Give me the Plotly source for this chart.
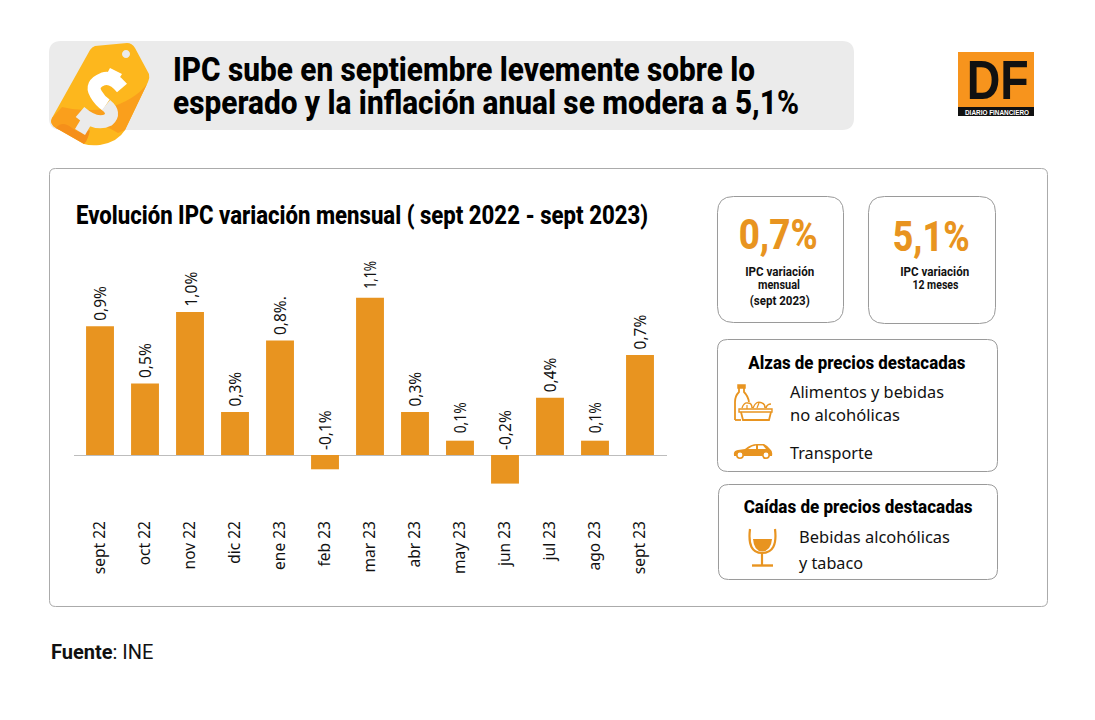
import re
import json
import plotly.graph_objects as go

meses = ["sept 22","oct 22","nov 22","dic 22","ene 23","feb 23","mar 23","abr 23","may 23","jun 23","jul 23","ago 23","sept 23"]
valores = [0.9,0.5,1.0,0.3,0.8,-0.1,1.1,0.3,0.1,-0.2,0.4,0.1,0.7]
etiquetas = ["0,9%","0,5%","1,0%","0,3%","0,8%.","-0,1%","1,1%","0,3%","0,1%","-0,2%","0,4%","0,1%","0,7%"]

W, H = 1095, 720
ORANGE = "#E89420"
BODY = "Noto Sans"
COND = "Roboto"

fig = go.Figure()
fig.add_trace(go.Bar(x=meses, y=valores, marker_color=ORANGE, marker_line_width=0, width=0.62,
                     hoverinfo="skip", showlegend=False))

def rr(x0, y0, x1, y1, r):
    return (f"M{x0+r},{y0} L{x1-r},{y0} Q{x1},{y0} {x1},{y0+r} L{x1},{y1-r} Q{x1},{y1} {x1-r},{y1} "
            f"L{x0+r},{y1} Q{x0},{y1} {x0},{y1-r} L{x0},{y0+r} Q{x0},{y0} {x0+r},{y0} Z")

def circ(cx, cy, r):
    k = 0.5523 * r
    return (f"M{cx-r},{cy} C{cx-r},{cy-k} {cx-k},{cy-r} {cx},{cy-r} C{cx+k},{cy-r} {cx+r},{cy-k} {cx+r},{cy} "
            f"C{cx+r},{cy+k} {cx+k},{cy+r} {cx},{cy+r} C{cx-k},{cy+r} {cx-r},{cy+k} {cx-r},{cy} Z")

def to_paper(d):
    out, i = [], 0
    for tok in re.findall(r"[MLQCZ]|-?\d+\.?\d*", d):
        if tok.isalpha():
            out.append(tok)
        else:
            v = float(tok)
            out.append(f"{v / W:.5f}" if i % 2 == 0 else f"{1 - v / H:.5f}")
            i += 1
    return " ".join(out)

shapes = []
def path(d, fill=None, line=None, lw=0, layer="below"):
    shapes.append(dict(type="path", path=to_paper(d), xref="paper", yref="paper", layer=layer,
                       fillcolor=fill if fill else "rgba(0,0,0,0)",
                       line=dict(color=line if line else "rgba(0,0,0,0)", width=lw)))

fit = {}
def txt(x, y, s, size, color="#111", font=BODY, anchor="left", weight=400, width=None):
    fig.add_annotation(x=x / W, y=1 - y / H, xref="paper", yref="paper", text=s, borderpad=0, borderwidth=0,
                       showarrow=False, xanchor=anchor, yanchor="middle", align=anchor,
                       font=dict(size=size, color=color, family=font, weight=weight))
    if width:
        fit[f"{s}|{size}px"] = width

# panels
path(rr(49, 41, 854, 130, 12), fill="#EBEBEB")
path(rr(49.5, 168.5, 1047.5, 606.5, 6), fill="#FFFFFF", line="#ABABAB", lw=1)
path(rr(717.5, 196.5, 843.5, 322.5, 16), fill="#FFFFFF", line="#9A9A9A", lw=1)
path(rr(868.5, 196.5, 995.5, 323.5, 16), fill="#FFFFFF", line="#9A9A9A", lw=1)
path(rr(717.5, 339.5, 997.5, 471.5, 10), fill="#FFFFFF", line="#9A9A9A", lw=1)
path(rr(718.5, 484.5, 997.5, 579.5, 10), fill="#FFFFFF", line="#9A9A9A", lw=1)

# price tag
path("M95,46 L127,43 Q132,43 135,48 L149,74 Q150,78 148,82 L125,130 Q118,142 100,145 Q90,146 84,144 L56,128 Q49,124 52,118 L90,50 Q92,47 95,46 Z", fill="#FDB71D")
path("M62,107 Q85,113 108,108 Q135,100 147,84 L125,130 L118,133 Q100,122 90,125 L86,142 L56,128 Q49,124 52,118 Z", fill="#FA9F1C")
path("M56,128 Q62,120 72,128 Q82,136 90,130 Q88,140 84,144 Z", fill="#F58F1A")
path(circ(126, 54, 4), fill="#EBEBEB")
# dollar
path("M122,88 Q112,76 103,79 Q90,84 96,94 Q100,101 106,105", line="#FFFFFF", lw=13)
path("M106,105 Q116,113 108,120 Q96,126 80,112", line="#EBEBEB", lw=13)
path("M110,68 L122,74 L115,85 L104,79 Z", fill="#FFFFFF")
path("M81,119 L91,125 L85,135 L75,129 Z", fill="#EBEBEB")

# DF logo
path("M958,52 L1034,52 L1034,116 L958,116 Z", fill="#F7941D")
path("M958,107 L1034,107 L1034,116 L958,116 Z", fill="#111111")
txt(997, 80, "DF", 55, color="#111", font="Liberation Sans", anchor="center", weight=700, width=62)
txt(997, 112, "DIARIO FINANCIERO", 7, color="#FFFFFF", font="Liberation Sans", anchor="center", weight=700, width=64)

# title and texts
txt(173, 69, "IPC sube en septiembre levemente sobre lo", 33, color="#000", font=COND, weight=800, width=582)
txt(173, 103, "esperado y la inflación anual se modera a 5,1%", 33, color="#000", font=COND, weight=800, width=626)
txt(76, 215, "Evolución IPC variación mensual ( sept 2022 - sept 2023)", 25, color="#000", font=COND, weight=800, width=572)
fig.add_annotation(x=50 / W, y=1 - 652 / H, xref="paper", yref="paper", text="<b>Fuente</b>: INE", borderpad=0,
                   showarrow=False, xanchor="left", yanchor="middle", align="left",
                   font=dict(size=20, color="#111", family=COND))

txt(778, 235, "0,7%", 42, color=ORANGE, font=COND, anchor="center", weight=800, width=79)
txt(931, 237, "5,1%", 42, color=ORANGE, font=COND, anchor="center", weight=800, width=77)
txt(779, 271, "IPC variación", 13, font=COND, anchor="center", weight=700, width=69)
txt(779, 285, "mensual", 13, font=COND, anchor="center", weight=700, width=42)
txt(780, 300, "(sept 2023)", 13, font=COND, anchor="center", weight=700, width=60)
txt(934, 271, "IPC variación", 13, font=COND, anchor="center", weight=700, width=69)
txt(935, 285, "12 meses", 13, font=COND, anchor="center", weight=700, width=46)

txt(857, 363, "Alzas de precios destacadas", 18.5, color="#000", font=COND, anchor="center", weight=800, width=217)
txt(790, 392, "Alimentos y bebidas", 17, width=154)
txt(790, 415, "no alcohólicas", 17, width=110)
txt(790, 452, "Transporte", 17, width=83)
txt(858, 507, "Caídas de precios destacadas", 18.5, color="#000", font=COND, anchor="center", weight=800, width=229)
txt(799, 536, "Bebidas alcohólicas", 17, width=151)
txt(799, 562, "y tabaco", 17, width=64)

# icon: bottle + basket
path("M738,385 L745,385 L745,388 L738,388 Z", line=ORANGE, lw=1.5, fill=ORANGE)
path("M735,420 L735,402 Q735,396 739,392 L739,388 M744,388 L744,392 Q748,396 749,402", line=ORANGE, lw=1.8)
path("M735,420 L741,420", line=ORANGE, lw=1.8)
path("M739,409 L772,409 L772,412 L739,412 Z", line=ORANGE, lw=1.4)
path("M741,412 L743,420 L769,420 L771,412", line=ORANGE, lw=1.8)
path("M742,408 Q744,402 748,403 Q752,403 752,408 M753,408 Q756,400 762,403 Q765,404 765,408 M766,408 Q767,404 771,404", line=ORANGE, lw=1.4)
path("M747,409 L747,405 M757,408 L759,403", line=ORANGE, lw=1.2)
# icon: car
path("M734,455 Q733,451 738,450 L745,449 Q751,444 757,444 L764,444 Q768,446 770,449 Q773,451 772,456 L734,456 Z", fill=ORANGE)
path("M748,449 Q752,446 756,445.5 L756,449 Z M758,445.5 L763,445.5 L766,449 L758,449 Z", fill="#FFFFFF")
for cx in (740, 766):
    path(circ(cx, 455, 3.2), fill="#FFFFFF", line=ORANGE, lw=1.6)
# icon: wine glass
path("M750,529 Q747,553 762,553 Q778,553 775,529", line=ORANGE, lw=2.2)
path("M753,539 L772,539 Q771,551 762,551.5 Q754,551 753,539 Z", fill=ORANGE)
path("M762,553 L762,565", line=ORANGE, lw=2.2)
path("M752,565.5 L773,565.5", line=ORANGE, lw=2.4)

# value labels placed on the chart's own axes
for m, v, e in zip(meses, valores, etiquetas):
    fig.add_annotation(x=m, y=max(v, 0), xref="x", yref="y", text=e, showarrow=False, textangle=-90,
                       xanchor="center", yanchor="bottom", yshift=3,
                       font=dict(size=15.5, color="#111", family=BODY))
fit["1,1%|15.5px"] = 28
fit["0,1%|15.5px"] = 31

P_L, P_R, P_T, P_B = 74, 667, 250, 500
fig.update_layout(
    width=W, height=H, margin=dict(l=0, r=0, t=0, b=0), autosize=False,
    paper_bgcolor="#FFFFFF", plot_bgcolor="rgba(0,0,0,0)", shapes=shapes, showlegend=False,
    xaxis=dict(domain=[P_L / W, P_R / W], type="category", range=[-0.578, 12.6], showgrid=False, zeroline=False,
               showline=False, ticks="", tickangle=-90, ticklabelstandoff=17, anchor="y",
               tickfont=dict(size=15.5, color="#111", family=BODY), fixedrange=True),
    yaxis=dict(domain=[1 - P_B / H, 1 - P_T / H], range=[-(500 - 455) / 143, (455 - 250) / 143], showgrid=False,
               zeroline=True, zerolinecolor="#BDBDBD", zerolinewidth=1, showticklabels=False, ticks="", anchor="x",
               fixedrange=True),
)
post = (
    "document.body.style.margin='0';"
    f"var fit={json.dumps(fit, ensure_ascii=False)};"
    "document.querySelectorAll('.annotation-text').forEach(function(t){"
    "var w=fit[t.textContent+'|'+t.style.fontSize];"
    "if(w){t.setAttribute('textLength',w);t.setAttribute('lengthAdjust','spacingAndGlyphs');}"
    "});"
)
fig.write_html("out.html", config=dict(displayModeBar=False), post_script=post)
